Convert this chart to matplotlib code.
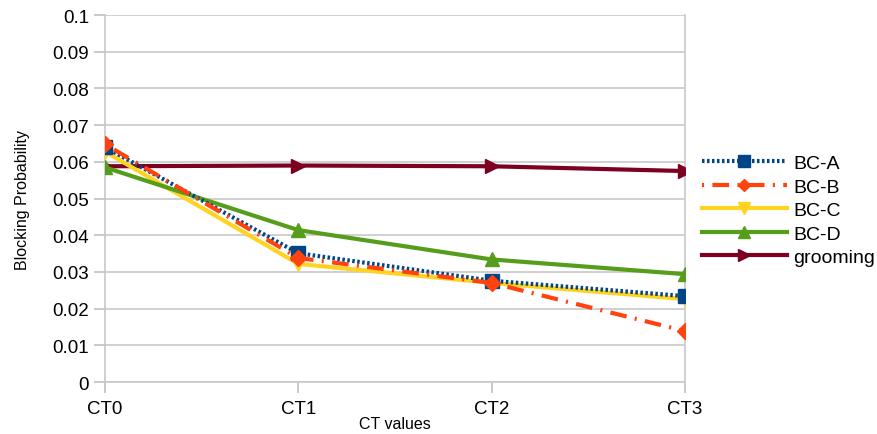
import numpy as np
import matplotlib.pyplot as plt

plt.rcParams['font.family'] = ['Liberation Sans', 'DejaVu Sans']

cts = ['CT0', 'CT1', 'CT2', 'CT3']
bc_a = [0.0640, 0.0351, 0.0276, 0.0234]
bc_b = [0.0648, 0.0338, 0.0270, 0.0139]
bc_c = [0.0628, 0.0322, 0.0270, 0.0226]
bc_d = [0.0585, 0.0414, 0.0334, 0.0294]
grooming = [0.0588, 0.0590, 0.0588, 0.0575]

fig = plt.figure(figsize=(8.77, 4.35), dpi=100)
ax = fig.add_axes([0.1197, 0.1195, 0.6613, 0.8435])

x = np.arange(len(cts))
lw = 3
ax.plot(x, bc_a, color='#004586', lw=lw, ls=(0, (0.6, 0.6)), marker='s', ms=10, label='BC-A', zorder=5)
ax.plot(x, bc_b, color='#ff420e', lw=lw, ls=(0, (0.5, 2, 4, 2)), marker='D', ms=8, label='BC-B', zorder=5)
ax.plot(x, bc_c, color='#ffd320', lw=lw, marker='v', ms=10, label='BC-C', zorder=4)
ax.plot(x, bc_d, color='#579d1c', lw=lw, marker='^', ms=10, label='BC-D', zorder=4)
ax.plot(x, grooming, color='#7e0021', lw=lw, marker='>', ms=10, label='grooming', zorder=3)

ax.set_xlim(0, 3)
ax.set_ylim(0, 0.1)
ax.set_xticks(x)
ax.set_xticklabels(cts)
ax.set_yticks(np.arange(0, 0.101, 0.01))
ax.set_yticklabels(['0', '0.01', '0.02', '0.03', '0.04', '0.05', '0.06', '0.07', '0.08', '0.09', '0.1'])
ax.tick_params(labelsize=13.5, color='#c0c0c0', length=8, width=1.2)
ax.tick_params(axis='x', pad=5)
ax.grid(axis='y', color='#c8c8c8', lw=1.2)
ax.spines['top'].set_visible(False)
for s in ['left', 'right', 'bottom']:
    ax.spines[s].set_color('#c8c8c8')
    ax.spines[s].set_linewidth(1.2)

ax.set_xlabel('CT values', fontsize=11.5, labelpad=-1)
ax.set_ylabel('Blocking Probability', fontsize=11.5, labelpad=16)

leg = ax.legend(loc='center left', bbox_to_anchor=(1.0155, 0.468), borderaxespad=0,
                frameon=False, fontsize=14, handlelength=4.4, labelspacing=0.3,
                handletextpad=0.3, markerscale=0.8)

fig.savefig('out.png', dpi=100)
